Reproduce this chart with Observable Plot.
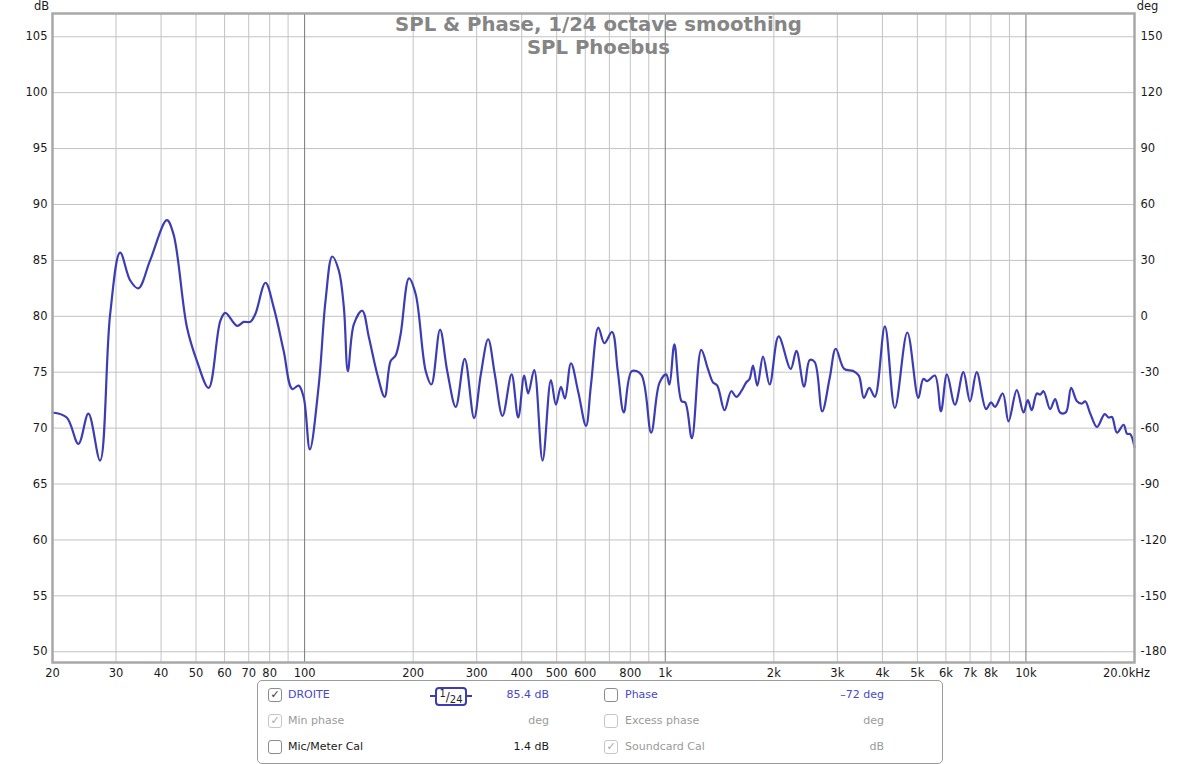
<!DOCTYPE html>
<html>
<head>
<meta charset="utf-8">
<script src="https://cdn.jsdelivr.net/npm/d3@7"></script>
<script src="https://cdn.jsdelivr.net/npm/@observablehq/plot@0.6"></script>
<style>
  html, body { margin: 0; padding: 0; background: #fff; }
  body { width: 1200px; height: 764px; position: relative; overflow: hidden; font-family: "DejaVu Sans", sans-serif; }
  #chart { position: absolute; left: 0; top: 0; }
  #legend { position: absolute; left: 257px; top: 680px; width: 686px; height: 84px; box-sizing: border-box;
            border: 1px solid #9c9c9c; border-radius: 5px; background: #fff; }
  .lg { position: absolute; font-size: 11px; line-height: 14px; white-space: nowrap; }
  .cb { position: absolute; width: 12px; height: 12px; border: 1px solid #8c8c8c; border-radius: 3px; background: #fff;
        font-size: 11px; line-height: 12px; text-align: center; color: #333; }
  .cb.dim { border-color: #c6c6c6; color: #a8a8a8; }
  .blue { color: #4747c4; }
  .gray { color: #9a9a9a; }
  .black { color: #1a1a1a; }
  .r { text-align: right; }
  #badge { position: absolute; left: 435px; top: 687px; width: 32px; height: 19px; border: 2px solid #3c3cb4; border-radius: 4px;
           box-sizing: border-box; color: #222; background: #fff; display: flex; align-items: center; justify-content: center;
           font-size: 10px; line-height: 10px; }
  #badge .n { position: relative; top: -3px; font-size: 10px; }
  #badge .s { font-size: 12px; }
  #badge .d { position: relative; top: 3px; font-size: 10px; }
  .stub { position: absolute; height: 2px; width: 6px; background: #3c3cb4; top: 695px; }
</style>
</head>
<body>
<div id="chart"></div>
<div id="legend"></div>
<div class="stub" style="left:430px"></div>
<div class="stub" style="left:466px"></div>
<div id="badge"><span class="n">1</span><span class="s">/</span><span class="d">24</span></div>
<div class="cb" style="left:268px; top:688px">✓</div>
<div class="lg blue" style="left:288px; top:688px">DROITE</div>
<div class="lg blue r" style="left:489px; top:688px; width:60px">85.4 dB</div>
<div class="cb" style="left:604px; top:688px"></div>
<div class="lg blue" style="left:625px; top:688px">Phase</div>
<div class="lg blue r" style="left:804px; top:688px; width:80px">–72 deg</div>

<div class="cb dim" style="left:268px; top:714px">✓</div>
<div class="lg gray" style="left:288px; top:714px">Min phase</div>
<div class="lg gray r" style="left:489px; top:714px; width:60px">deg</div>
<div class="cb dim" style="left:604px; top:714px"></div>
<div class="lg gray" style="left:625px; top:714px">Excess phase</div>
<div class="lg gray r" style="left:804px; top:714px; width:80px">deg</div>

<div class="cb" style="left:268px; top:740px"></div>
<div class="lg black" style="left:288px; top:740px">Mic/Meter Cal</div>
<div class="lg black r" style="left:489px; top:740px; width:60px">1.4 dB</div>
<div class="cb dim" style="left:604px; top:740px">✓</div>
<div class="lg gray" style="left:625px; top:740px">Soundcard Cal</div>
<div class="lg gray r" style="left:804px; top:740px; width:80px">dB</div>

<script>
// ---- Data ----
const freqHz = [20, 21.9, 23.6, 25.15, 27.1, 28.9, 30.8, 32.85, 34.6, 37.3, 41.5, 43.3, 47.2, 50.3, 54.2, 58.4, 60.3, 65.0, 67.8, 70.7,
  73.0, 77.9, 82.1, 87.5, 92.4, 96.3, 99.5, 103.4, 109.5, 114.3, 119.3, 124.4, 128.5, 131.8, 137.0, 144.5, 150.8, 159.1, 166.7, 173.2,
  178.8, 184.6, 194.7, 203.2, 216.7, 224.7, 237.4, 248.9, 262.5, 278.0, 295.1, 308.0, 322.8, 336.9, 353.9, 374.9, 391.0, 406.3, 416.8, 433.1,
  456.9, 481.9, 497.6, 513.7, 527.1, 547.7, 574.0, 602.9, 622.5, 652.3, 677.8, 712.0, 738.5, 767.4, 807.6, 857.2, 913.8, 963.6, 1006, 1027,
  1060, 1110, 1136, 1185, 1258, 1313, 1356, 1394, 1460, 1524, 1574, 1625, 1678, 1713, 1751, 1800, 1867, 1947, 2062, 2227,
  2310, 2427, 2515, 2597, 2723, 2858, 2970, 3134, 3320, 3441, 3553, 3678, 3812, 4064, 4331, 4690, 5030, 5193, 5328, 5593,
  5812, 6040, 6357, 6708, 6998, 7304, 7752, 8004, 8211, 8626, 8946, 9433, 9846, 10120, 10380, 10720, 10950, 11190, 11670, 12050,
  12440, 12900, 13350, 13850, 14300, 14600, 15080, 15740, 16530, 16960, 17320, 17880, 18660, 19060, 19470, 20000];
const splDb = [71.4, 70.95, 68.6, 71.3, 67.1, 80.2, 85.7, 83.2, 82.5, 85.0, 88.6, 87.35, 79.0, 76.0, 73.6, 79.6, 80.3, 79.15, 79.5, 79.5,
  80.2, 83.0, 80.8, 76.9, 73.5, 73.8, 72.7, 68.1, 73.9, 81.4, 85.35, 84.1, 80.8, 75.1, 79.3, 80.5, 78.1, 74.8, 72.8, 76.0,
  76.5, 78.4, 83.4, 82.0, 75.1, 73.9, 78.8, 75.0, 71.9, 76.2, 70.9, 74.8, 77.95, 74.8, 71.1, 74.8, 70.95, 74.7, 73.1, 75.2,
  67.1, 74.3, 72.1, 73.7, 72.65, 75.8, 73.2, 70.2, 73.9, 79.0, 77.6, 78.6, 75.1, 71.4, 75.1, 74.8, 69.6, 74.05, 74.8, 73.9,
  77.5, 72.4, 72.3, 69.1, 77.0, 75.3, 74.1, 73.8, 71.6, 73.3, 72.8, 73.3, 74.1, 74.4, 75.6, 73.8, 76.4, 73.9, 78.2, 75.3,
  76.9, 73.7, 76.1, 75.9, 71.5, 74.5, 77.1, 75.3, 75.1, 74.7, 72.7, 73.6, 72.8, 79.1, 71.8, 78.55, 72.7, 74.4, 74.2, 74.7,
  71.5, 74.8, 72.1, 75.0, 72.4, 75.0, 71.7, 72.3, 71.9, 73.1, 70.6, 73.4, 71.4, 72.5, 71.6, 73.1, 73.0, 73.3, 71.7, 72.6,
  71.4, 71.4, 73.6, 72.4, 72.2, 72.4, 71.3, 70.1, 71.25, 70.95, 71.0, 69.6, 70.3, 69.5, 69.45, 68.3];

// Axis ticks and labels
const dbTicks = [50, 55, 60, 65, 70, 75, 80, 85, 90, 95, 100, 105];
const phaseTickLabels = ["-180", "-150", "-120", "-90", "-60", "-30", "0", "30", "60", "90", "120", "150"];
const freqGrid = [20, 30, 40, 50, 60, 70, 80, 90, 200, 300, 400, 500, 600, 700, 800, 900,
  2000, 3000, 4000, 5000, 6000, 7000, 8000, 9000, 20000];
const freqMajorGrid = [100, 1000, 10000];
const freqTicks = [20, 30, 40, 50, 60, 70, 80, 100, 200, 300, 400, 500, 600, 800, 1000, 2000, 3000, 4000, 5000, 6000, 7000, 8000, 10000];
const freqTickLabels = ["20", "30", "40", "50", "60", "70", "80", "100", "200", "300", "400", "500", "600", "800",
  "1k", "2k", "3k", "4k", "5k", "6k", "7k", "8k", "10k"];
const lastFreqTick = [20000];
const lastFreqLabel = ["20.0kHz"];
const titleLine1 = "SPL & Phase, 1/24 octave smoothing";
const titleLine2 = "SPL Phoebus";

// ---- Build ----
const data = freqHz.map((f, i) => ({f, db: splDb[i]}));
const xLabel = new Map(freqTicks.map((f, i) => [f, freqTickLabels[i]]));
const phaseLabel = new Map(dbTicks.map((d, i) => [d, phaseTickLabels[i]]));

const chart = Plot.plot({
  width: 1200,
  height: 682,
  marginLeft: 52,
  marginRight: 66,
  marginTop: 13,
  marginBottom: 20,
  x: {type: "log", domain: [20, 20000], axis: null},
  y: {domain: [49.04, 107.08], axis: null},
  style: {fontFamily: "'Lucida Grande', 'DejaVu Sans', sans-serif", fontSize: "11.5px", color: "#1a1a1a", background: "#fff", overflow: "visible"},
  marks: [
    Plot.ruleY(dbTicks, {stroke: "#c3c3c3", strokeWidth: 1}),
    Plot.ruleX(freqGrid, {stroke: "#c3c3c3", strokeWidth: 1}),
    Plot.ruleX(freqMajorGrid, {stroke: "#7a7a7a", strokeWidth: 1}),
    Plot.text([titleLine1], {frameAnchor: "top", lineAnchor: "bottom", dx: 5, dy: 17, fontSize: 19.7, fontWeight: "bold", fill: "#858585"}),
    Plot.text([titleLine2], {frameAnchor: "top", lineAnchor: "bottom", dx: 5, dy: 40.5, fontSize: 19.7, fontWeight: "bold", fill: "#858585"}),
    Plot.line(data, {x: "f", y: "db", stroke: "#3c3cb4", strokeWidth: 2.2, curve: "catmull-rom"}),
    Plot.frame({stroke: "#a8a8a8", strokeWidth: 2.5}),
    Plot.axisY(dbTicks, {anchor: "left", tickSize: 0, tickPadding: 5, label: null}),
    Plot.axisY(dbTicks, {anchor: "right", tickSize: 0, tickPadding: 6, label: null, tickFormat: d => phaseLabel.get(d)}),
    Plot.text(freqTicks, {x: d => d, frameAnchor: "bottom", lineAnchor: "top", dy: 6, text: d => xLabel.get(d)}),
    Plot.text(lastFreqTick, {x: d => d, frameAnchor: "bottom", lineAnchor: "top", dy: 6, dx: -8, text: (d, i) => lastFreqLabel[i]}),
    Plot.text(["dB"], {frameAnchor: "top-left", textAnchor: "middle", lineAnchor: "bottom", dx: -11, dy: -4, fontSize: 11.5}),
    Plot.text(["deg"], {frameAnchor: "top-right", textAnchor: "middle", lineAnchor: "bottom", dx: 13, dy: -4, fontSize: 11.5})
  ]
});
document.getElementById("chart").append(chart);
</script>
</body>
</html>
